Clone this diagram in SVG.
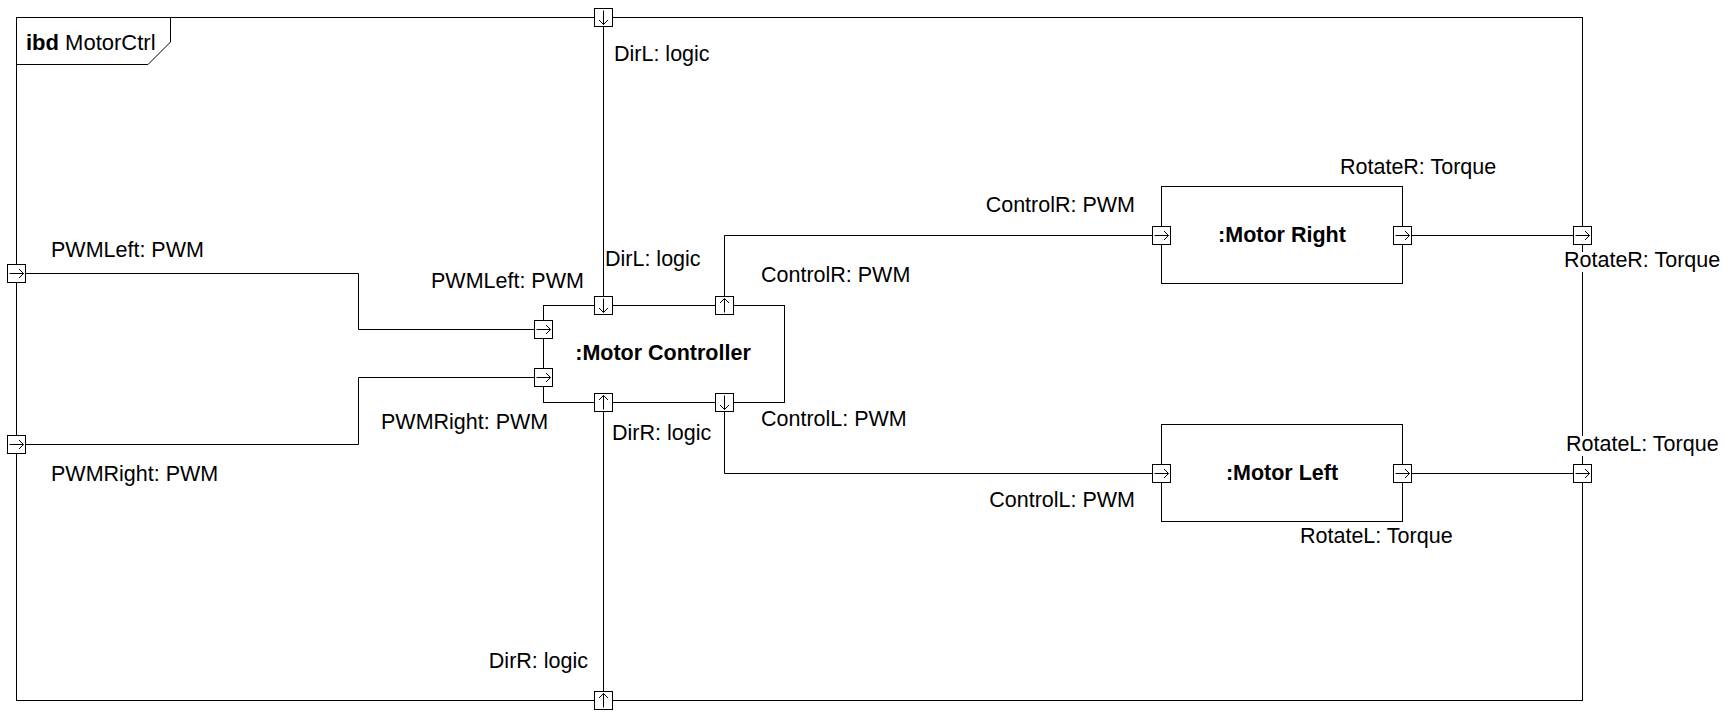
<svg xmlns="http://www.w3.org/2000/svg" xmlns:xlink="http://www.w3.org/1999/xlink" width="1730" height="728" viewBox="0 0 1730 728">
<style>
text{font-family:"Liberation Sans",Arial,sans-serif;font-size:21.5px;fill:#000}
.b{font-weight:bold}
.ln{fill:none;stroke:#000;stroke-width:1}
.blk{fill:#fff;stroke:#000;stroke-width:1}
.pb{fill:#fff;stroke:#000;stroke-width:1}
.pa{fill:none;stroke:#000;stroke-width:1}
</style>
<defs>
<g id="pR"><rect class="pb" x="-9" y="-9" width="18" height="18"/><path class="pa" d="M-7 0H7M2.5-4.5L7 0L2.5 4.5"/></g>
<g id="pD"><rect class="pb" x="-9" y="-9" width="18" height="18"/><path class="pa" d="M0-7V7M-4.5 2.5L0 7L4.5 2.5"/></g>
<g id="pU"><rect class="pb" x="-9" y="-9" width="18" height="18"/><path class="pa" d="M0 7V-7M-4.5-2.5L0-7L4.5-2.5"/></g>
</defs>
<rect width="1730" height="728" fill="#fff"/>
<g id="frame">
<rect class="ln" x="16.5" y="17.5" width="1566" height="683"/>
<path class="ln" d="M16.5 64.5H148L170.5 42V17.5"/>
<text x="26" y="50" style="font-size:22px"><tspan class="b">ibd</tspan> MotorCtrl</text>
</g>
<g id="connectors">
<path class="ln" d="M603.5 26.5V296.5"/>
<path class="ln" d="M603.5 411.5V691.5"/>
<path class="ln" d="M25.5 273.5H358.5V329.5H534.5"/>
<path class="ln" d="M25.5 444.5H358.5V377.5H534.5"/>
<path class="ln" d="M724.5 296.5V235.5H1152.5"/>
<path class="ln" d="M724.5 411.5V473.5H1152.5"/>
<path class="ln" d="M1411.5 235.5H1573.5"/>
<path class="ln" d="M1411.5 473.5H1573.5"/>
</g>
<g id="controller">
<rect class="blk" x="543.5" y="305.5" width="241" height="97"/>
<text class="b" x="663" y="360" text-anchor="middle">:Motor Controller</text>
<use xlink:href="#pR" x="543.5" y="329.5"/>
<use xlink:href="#pR" x="543.5" y="377.5"/>
<use xlink:href="#pD" x="603.5" y="305.5"/>
<use xlink:href="#pU" x="724.5" y="305.5"/>
<use xlink:href="#pU" x="603.5" y="402.5"/>
<use xlink:href="#pD" x="724.5" y="402.5"/>
<text x="431" y="288">PWMLeft: PWM</text>
<text x="381" y="429">PWMRight: PWM</text>
<text x="605" y="266">DirL: logic</text>
<text x="612" y="440">DirR: logic</text>
<text x="761" y="282">ControlR: PWM</text>
<text x="761" y="426">ControlL: PWM</text>
</g>
<g id="motorRight">
<rect class="blk" x="1161.5" y="186.5" width="241" height="97"/>
<text class="b" x="1282" y="242" text-anchor="middle">:Motor Right</text>
<use xlink:href="#pR" x="1161.5" y="235.5"/>
<use xlink:href="#pR" x="1402.5" y="235.5"/>
<text x="1135" y="212" text-anchor="end">ControlR: PWM</text>
<text x="1340" y="174">RotateR: Torque</text>
</g>
<g id="motorLeft">
<rect class="blk" x="1161.5" y="424.5" width="241" height="97"/>
<text class="b" x="1282" y="480" text-anchor="middle">:Motor Left</text>
<use xlink:href="#pR" x="1161.5" y="473.5"/>
<use xlink:href="#pR" x="1402.5" y="473.5"/>
<text x="1135" y="507" text-anchor="end">ControlL: PWM</text>
<text x="1300" y="543">RotateL: Torque</text>
</g>
<g id="framePorts">
<use xlink:href="#pD" x="603.5" y="17.5"/>
<text x="614" y="61">DirL: logic</text>
<use xlink:href="#pU" x="603.5" y="700.5"/>
<text x="588" y="668" text-anchor="end">DirR: logic</text>
<use xlink:href="#pR" x="16.5" y="273.5"/>
<text x="51" y="257">PWMLeft: PWM</text>
<use xlink:href="#pR" x="16.5" y="444.5"/>
<text x="51" y="481">PWMRight: PWM</text>
<use xlink:href="#pR" x="1582.5" y="235.5"/>
<rect x="1563" y="252" width="162" height="20" fill="#fff"/>
<text x="1564" y="267">RotateR: Torque</text>
<use xlink:href="#pR" x="1582.5" y="473.5"/>
<rect x="1565" y="436" width="162" height="20" fill="#fff"/>
<text x="1566" y="451">RotateL: Torque</text>
</g>
</svg>
